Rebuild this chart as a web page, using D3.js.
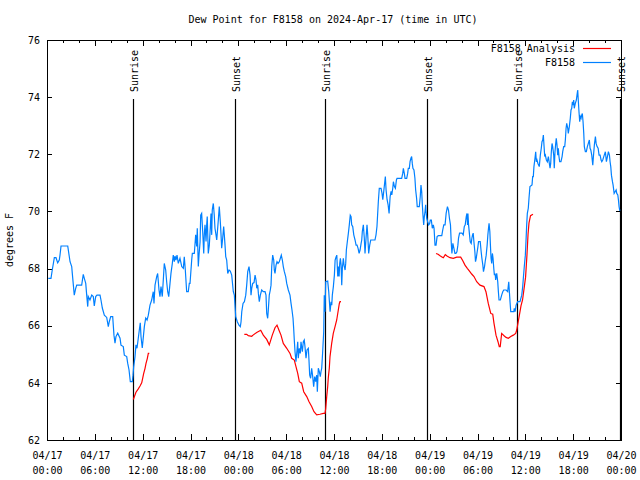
<!DOCTYPE html>
<html>
<head>
<meta charset="utf-8">
<script src="https://cdn.jsdelivr.net/npm/d3@7"></script>
<style>
  body { margin: 0; background: #fff; }
  text { font-family: "DejaVu Sans Mono", monospace; font-size: 10px; fill: #000; }
</style>
</head>
<body>
<div id="chart"></div>
<script>

// hours after 2024-04-17 00:00 UTC
var startDay = Date.UTC(2024, 3, 17);

var sunHours = [10.83, 23.62, 34.91, 47.67, 58.96, 71.88];
var sunLabels = ["Sunrise", "Sunset", "Sunrise", "Sunset", "Sunrise", "Sunset"];

var yTicks = [62, 64, 66, 68, 70, 72, 74, 76];

// F8158 observations [hour, degrees F]
var f8158Apr17 = [[0.16,67.66],[0.50,67.66],[0.66,67.95],[0.92,68.38],[1.13,68.38],[1.34,68.2],[1.54,68.3],[1.63,68.47],[1.76,68.79],[2.60,68.79],[2.89,68.24],[3.10,68.07],[3.17,67.84],[3.42,67.07],[3.60,67.31],[3.73,67.42],[4.35,67.42],[4.55,67.8],[4.68,67.66],[4.86,67.48],[4.98,67.07],[5.11,66.67],[5.18,67.02],[5.39,66.9],[5.61,67.07],[5.81,67.02],[5.93,66.69],[6.11,67.02],[6.27,67.07],[6.65,67.07],[6.77,66.9],[6.94,66.62],[7.19,66.37],[7.49,66.29],[7.69,65.97],[7.81,66.14],[7.99,66.32],[8.24,66.32],[8.40,65.67],[8.53,65.39],[8.65,65.62],[8.87,65.74],[9.16,65.56],[9.28,65.32],[9.57,65.27],[9.70,64.97],[10.00,64.92],[10.12,64.69],[10.29,64.45],[10.45,64.04],[10.70,64.04],[10.79,64.27],[10.87,64.56],[11.04,64.92],[11.16,65.33],[11.29,65.21],[11.45,65.56],[11.58,65.85],[11.70,66.1],[11.79,65.62],[11.95,65.22],[12.13,65.74],[12.21,65.97],[12.38,66.27],[12.55,66.2],[12.71,66.37],[12.92,66.72],[13.13,66.9],[13.33,67.19],[13.42,66.78],[13.55,67.42],[13.76,67.72],[13.88,67.83],[14.05,67.25],[14.17,67.02],[14.30,67.37],[14.46,67.02],[14.64,67.84],[14.71,68.18],[14.89,67.95],[15.01,67.54],[15.14,67.19],[15.27,67.02],[15.43,67.48],[15.55,67.83],[15.72,68.18],[15.84,68.47],[15.97,68.24],[16.06,68.44],[16.18,68.3],[16.31,68.47],[16.47,68.18],[16.68,68.36],[16.90,68.07],[17.10,68.01],[17.22,68.41],[17.35,67.95],[17.52,67.19],[17.72,67.19],[17.85,67.48],[17.94,67.48],[18.15,68.3],[18.23,68.53],[18.48,68.53],[18.65,69.18],[18.78,68.77],[18.85,69.41],[18.98,68.07],[19.07,68.47],[19.20,68.93],[19.28,69.87],[19.40,69.93],[19.53,69.29],[19.66,68.53],[19.73,69.18],[19.82,69.53],[19.95,68.95],[20.03,69.53],[20.10,69.82],[20.23,68.53],[20.36,68.82],[20.48,69.41],[20.57,69.93],[20.66,69.18],[20.73,70.05],[20.86,70.28],[20.98,69.87],[21.07,69.41],[21.20,69.18],[21.29,69.0],[21.36,69.24],[21.49,69.7],[21.61,70.17],[21.74,69.64],[21.82,69.24],[21.91,68.71],[22.04,69.07],[22.16,69.47],[22.24,69.18],[22.33,68.82],[22.42,68.42],[22.54,68.3],[22.67,67.83],[22.83,67.95],[22.99,67.91],[23.17,67.77],[23.37,67.19],[23.50,67.07],[23.58,66.72],[23.67,66.32],[23.87,66.14]];

var f8158Apr18 = [[24.08,66.02],[24.25,65.97],[24.34,66.14],[24.43,66.49],[24.59,66.78],[24.76,66.84],[24.93,67.07],[25.05,67.42],[25.18,67.89],[25.34,68.07],[25.47,67.78],[25.59,67.07],[25.68,67.31],[25.80,67.48],[25.97,67.51],[26.10,67.77],[26.22,67.6],[26.31,67.31],[26.43,67.43],[26.51,67.14],[26.63,66.84],[26.76,67.07],[26.93,67.25],[27.13,67.19],[27.35,67.19],[27.47,67.07],[27.56,66.43],[27.68,66.26],[27.76,66.55],[27.88,67.07],[28.01,67.25],[28.10,67.42],[28.19,68.07],[28.31,68.47],[28.44,68.3],[28.51,67.95],[28.60,67.83],[28.73,68.12],[28.85,68.24],[28.98,68.18],[29.14,68.24],[29.27,68.36],[29.39,68.47],[29.52,68.3],[29.64,68.07],[29.77,67.89],[29.94,67.72],[30.07,67.48],[30.27,67.25],[30.48,67.07],[30.61,66.78],[30.73,66.55],[30.86,66.26],[30.94,65.91],[31.02,65.5],[31.11,65.09],[31.23,64.74],[31.36,65.15],[31.45,65.44],[31.52,64.86],[31.65,65.21],[31.77,65.03],[31.86,65.44],[32.03,65.09],[32.15,65.44],[32.27,65.5],[32.36,65.27],[32.49,64.86],[32.61,65.15],[32.78,65.21],[32.86,64.8],[32.95,64.27],[33.07,64.16],[33.20,64.51],[33.33,64.22],[33.45,63.87],[33.58,64.22],[33.70,64.04],[33.83,64.27],[33.91,63.69],[34.03,64.51],[34.16,64.39],[34.28,64.22],[34.37,64.39],[34.46,64.51],[34.58,65.09],[34.71,65.79],[34.78,67.07],[34.87,66.49],[34.96,67.54],[35.21,67.56],[35.34,67.19],[35.51,66.49],[35.63,66.84],[35.72,66.72],[35.79,67.07],[35.92,67.37],[36.05,67.78],[36.14,68.3],[36.26,68.41],[36.35,68.47],[36.47,67.72],[36.55,68.07],[36.64,67.72],[36.72,68.19],[36.80,68.36],[36.89,68.12],[36.97,67.42],[37.05,68.01],[37.17,68.36],[37.26,68.12],[37.39,67.95],[37.47,68.19],[37.55,68.65],[37.67,68.94],[37.80,69.23],[37.92,69.53],[38.04,69.87],[38.14,69.82],[38.22,69.53],[38.35,69.47],[38.48,69.18],[38.64,69.0],[38.77,68.82],[38.89,68.82],[39.02,68.71],[39.15,68.53],[39.27,68.65],[39.40,68.88],[39.48,69.0],[39.55,69.29],[39.68,69.53],[39.80,69.07],[39.89,68.53],[40.02,69.07],[40.14,69.53],[40.23,69.18],[40.35,68.53],[40.48,68.82],[40.61,69.0],[41.14,69.0],[41.27,69.18],[41.39,69.47],[41.56,70.34],[41.68,70.81],[41.90,70.81],[42.02,70.64],[42.12,70.41],[42.24,70.7],[42.37,71.04],[42.44,71.22],[42.53,70.76],[42.66,70.41],[42.79,70.23],[42.91,69.93],[43.04,70.52],[43.16,70.7],[43.25,70.58],[43.37,70.81],[43.45,71.04],[43.58,70.87],[43.70,70.81],[43.83,71.1],[43.91,71.16],[44.49,71.16],[44.62,71.33],[44.70,71.51],[44.82,71.33],[44.91,71.16],[45.12,71.16],[45.24,71.33],[45.32,71.51],[45.45,71.51],[45.54,71.74],[45.65,71.86],[45.74,71.92],[45.82,71.68],[45.90,71.51],[46.03,71.45],[46.15,71.16],[46.24,70.76],[46.36,70.46],[46.44,70.17],[46.70,70.17],[46.82,70.52],[46.91,70.92],[47.00,70.7],[47.07,70.29],[47.16,69.87],[47.25,69.53],[47.33,69.82],[47.42,70.0],[47.50,70.23],[47.53,70.06],[47.63,69.76],[47.75,69.64],[47.88,69.53]];

var f8158Apr19 = [[48.00,69.58],[48.08,69.7],[48.21,69.7],[48.33,69.41],[48.46,69.53],[48.55,69.41],[48.67,68.82],[48.80,68.82],[48.93,69.12],[49.09,69.15],[49.52,69.15],[49.64,69.35],[49.77,69.53],[49.93,69.53],[50.07,69.94],[50.23,70.17],[50.36,70.05],[50.48,69.76],[50.61,69.53],[50.70,68.94],[50.79,68.53],[50.91,68.88],[51.04,68.71],[51.17,68.53],[51.29,68.53],[51.42,68.59],[51.54,68.82],[51.62,69.07],[51.75,69.24],[52.05,69.24],[52.21,69.18],[52.34,69.47],[52.46,69.53],[52.59,69.82],[52.68,69.93],[52.75,69.53],[52.80,69.93],[52.88,69.53],[53.00,69.18],[53.09,68.94],[53.21,68.88],[53.30,69.07],[53.38,69.18],[53.46,69.24],[53.55,68.94],[53.67,68.59],[53.75,68.24],[53.84,68.36],[53.96,68.59],[54.05,68.76],[54.13,68.94],[54.34,68.94],[54.46,68.59],[54.55,68.36],[54.67,68.12],[54.75,67.89],[54.88,68.07],[54.96,68.24],[55.09,68.47],[55.21,68.82],[55.30,69.18],[55.38,69.41],[55.45,69.58],[55.55,69.29],[55.62,68.82],[55.70,68.36],[55.78,68.18],[55.87,68.53],[55.95,68.36],[56.04,68.01],[56.12,67.77],[56.21,67.83],[56.28,67.6],[56.41,67.83],[56.54,67.54],[56.62,67.19],[56.70,66.9],[56.87,66.9],[57.04,67.08],[57.17,67.19],[57.29,67.25],[57.59,67.25],[57.79,67.19],[57.83,67.31],[57.92,67.54],[58.00,67.19],[58.08,66.84],[58.17,66.49],[58.56,66.49],[58.61,66.61],[58.72,66.49],[58.84,66.72],[59.04,66.84],[59.33,66.84],[59.55,67.07],[59.67,67.37],[59.75,67.66],[59.87,68.07],[60.00,68.47],[60.08,68.94],[60.17,69.53],[60.25,69.93],[60.37,70.11],[60.46,70.46],[60.58,70.87],[60.84,70.93],[60.92,71.22],[61.00,71.22],[61.08,71.57],[61.21,71.86],[61.30,72.09],[61.38,71.74],[61.46,71.8],[61.58,71.68],[61.75,71.57],[61.88,71.97],[62.00,72.21],[62.09,72.44],[62.18,72.5],[62.26,72.67],[62.35,72.27],[62.43,71.92],[62.51,71.97],[62.64,71.8],[62.76,71.74],[62.89,71.92],[63.01,71.68],[63.10,71.51],[63.18,71.68],[63.26,72.09],[63.35,72.38],[63.43,72.27],[63.56,71.97],[63.63,71.51],[63.72,72.09],[63.81,72.38],[63.88,72.56],[63.97,72.33],[64.06,71.97],[64.14,72.21],[64.22,71.92],[64.31,71.74],[64.47,71.74],[64.61,71.92],[64.69,72.09],[64.81,72.27],[64.94,72.27],[65.02,72.5],[65.11,72.91],[65.19,73.08],[65.32,72.91],[65.39,72.73],[65.52,72.97],[65.64,73.26],[65.73,73.55],[65.82,73.61],[65.90,73.84],[65.98,73.72],[66.07,73.9],[66.14,73.61],[66.27,73.78],[66.40,73.9],[66.48,74.07],[66.57,74.25],[66.64,73.9],[66.73,73.49],[66.82,73.14],[66.90,73.32],[66.99,73.26],[67.07,73.37],[67.15,73.43],[67.24,73.14],[67.33,72.73],[67.40,72.27],[67.53,72.09],[67.65,72.09],[67.78,72.27],[68.03,72.5],[68.12,72.21],[68.21,72.15],[68.33,71.97],[68.46,71.62],[68.54,71.92],[68.66,72.33],[68.79,72.62],[68.88,72.38],[69.00,72.27],[69.13,72.21],[69.25,71.97],[69.38,71.97],[69.50,71.8],[69.59,71.74],[69.71,71.8],[69.84,71.92],[69.97,72.03],[70.04,72.09],[70.17,71.74],[70.30,71.92],[70.42,72.09],[70.55,71.97],[70.63,71.74],[70.72,71.56],[70.80,71.27],[70.93,71.04],[71.01,70.92],[71.14,70.63],[71.26,70.69],[71.39,70.75],[71.47,70.63],[71.60,70.58],[71.68,70.4],[71.76,70.17],[71.85,70.02]];

// F8158 Analysis, three separate runs
var analysisRun1 = [[10.83,63.42],[11.16,63.67],[11.45,63.79],[11.67,63.89],[11.88,64.0],[12.0,64.16],[12.13,64.33],[12.29,64.5],[12.42,64.68],[12.58,64.85],[12.71,65.03],[12.83,65.03]];
var analysisRun2 = [[24.75,65.70],[25.05,65.70],[25.25,65.65],[25.68,65.63],[25.88,65.68],[26.30,65.76],[26.81,65.84],[27.13,65.67],[27.56,65.52],[27.88,65.33],[28.26,65.67],[28.60,65.93],[28.85,66.02],[29.10,65.84],[29.35,65.67],[29.64,65.38],[30.07,65.21],[30.48,65.03],[30.69,64.86],[31.02,64.8],[31.23,64.57],[31.45,64.33],[31.65,64.04],[31.95,63.99],[32.20,63.69],[32.58,63.52],[32.87,63.34],[33.20,63.17],[33.49,62.99],[33.83,62.88],[34.24,62.9],[34.66,62.93],[34.87,62.93],[34.96,63.1],[35.08,63.5],[35.21,63.87],[35.28,64.16],[35.41,64.51],[35.50,64.92],[35.71,65.38],[35.91,65.73],[36.13,65.97],[36.34,66.2],[36.54,66.55],[36.67,66.78],[36.75,66.84],[36.88,66.84]];
var analysisRun3 = [[48.80,68.53],[49.05,68.5],[49.30,68.45],[49.59,68.4],[49.71,68.38],[49.96,68.49],[50.17,68.44],[50.55,68.38],[50.96,68.36],[51.39,68.4],[51.89,68.4],[52.14,68.28],[52.43,68.12],[52.72,68.01],[52.97,67.92],[53.27,67.81],[53.56,67.72],[53.90,67.54],[54.31,67.42],[54.81,67.37],[55.06,67.19],[55.35,66.78],[55.66,66.43],[55.91,66.4],[56.07,66.08],[56.32,65.67],[56.57,65.44],[56.73,65.27],[56.85,65.27],[57.03,65.73],[57.33,65.65],[57.58,65.59],[57.87,65.56],[58.17,65.62],[58.49,65.67],[58.79,65.73],[58.92,65.85],[59.21,66.3],[59.46,66.7],[59.65,66.9],[59.84,67.3],[60.03,67.7],[60.21,68.5],[60.34,69.2],[60.46,69.6],[60.65,69.85],[60.96,69.9]];

var svgWidth = 640, svgHeight = 480;
var margin = { top: 40, right: 19, bottom: 40, left: 47 };
var width = svgWidth - margin.left - margin.right;
var height = svgHeight - margin.top - margin.bottom;

function hourToDate(h) {
  return new Date(startDay + h * 3600 * 1000);
}

var svg = d3.select("#chart")
  .append("svg")
  .attr("width", svgWidth)
  .attr("height", svgHeight);

var chartGroup = svg.append("g")
  .attr("transform", `translate(${margin.left}, ${margin.top})`);

var xScale = d3.scaleUtc()
  .domain([hourToDate(0), hourToDate(72)])
  .range([0, width]);

var yScale = d3.scaleLinear()
  .domain([62, 76])
  .range([height, 0]);

var fmtDay = d3.utcFormat("%m/%d");
var fmtTime = d3.utcFormat("%H:%M");

// bottom axis: major 6h with labels, minor 2h
var bottomMinor = chartGroup.append("g")
  .attr("transform", `translate(0, ${height})`)
  .call(d3.axisBottom(xScale).ticks(d3.utcHour.every(2)).tickSize(-3).tickSizeOuter(0).tickFormat(""));

var bottomAxis = chartGroup.append("g")
  .attr("transform", `translate(0, ${height})`)
  .call(d3.axisBottom(xScale).ticks(d3.utcHour.every(6)).tickSize(-6).tickSizeOuter(0).tickPadding(11));

bottomAxis.selectAll(".tick text").each(function(d) {
  var t = d3.select(this);
  t.text(null).attr("dy", null).attr("y", 19);
  t.append("tspan").attr("x", 0).attr("y", 19).text(fmtDay(d));
  t.append("tspan").attr("x", 0).attr("y", 34).text(fmtTime(d));
});

var topMinor = chartGroup.append("g")
  .call(d3.axisTop(xScale).ticks(d3.utcHour.every(2)).tickSize(-3).tickSizeOuter(0).tickFormat(""));
var topMajor = chartGroup.append("g")
  .call(d3.axisTop(xScale).ticks(d3.utcHour.every(6)).tickSize(-6).tickSizeOuter(0).tickFormat(""));

var leftAxis = chartGroup.append("g")
  .call(d3.axisLeft(yScale).tickValues(yTicks).tickSize(-5).tickSizeOuter(0).tickPadding(7));
leftAxis.selectAll(".tick text").attr("dy", "0.32em");

var rightAxis = chartGroup.append("g")
  .attr("transform", `translate(${width}, 0)`)
  .call(d3.axisRight(yScale).tickValues(yTicks).tickSize(-5).tickSizeOuter(0).tickFormat(""));

chartGroup.selectAll(".domain").remove();
chartGroup.selectAll(".tick line").attr("stroke", "#000").attr("shape-rendering", "crispEdges");
chartGroup.selectAll(".tick text").attr("font-family", null).attr("font-size", null).attr("fill", "#000");

// frame
chartGroup.append("rect")
  .attr("x", 0.5).attr("y", 0.5)
  .attr("width", width).attr("height", height)
  .attr("fill", "none")
  .attr("stroke", "#000")
  .attr("shape-rendering", "crispEdges");

// sunrise / sunset markers
var sunGroup = chartGroup.selectAll(".sun")
  .data(sunHours)
  .enter()
  .append("g")
  .attr("transform", d => `translate(${Math.round(xScale(hourToDate(d))) + 0.5}, 0)`);

sunGroup.append("line")
  .attr("x1", 0).attr("x2", 0)
  .attr("y1", 59).attr("y2", height)
  .attr("stroke", "#000")
  .attr("stroke-width", 1.2);

// label reads bottom-to-top, its lower end just above the line
sunGroup.append("text")
  .attr("transform", "translate(4, 52) rotate(-90)")
  .attr("text-anchor", "start")
  .text((d, i) => sunLabels[i]);

var line = d3.line()
  .x(d => xScale(hourToDate(d[0])))
  .y(d => yScale(d[1]));

[analysisRun1, analysisRun2, analysisRun3].forEach(run => {
  chartGroup.append("path")
    .datum(run)
    .attr("fill", "none")
    .attr("stroke", "#ff0000")
    .attr("stroke-width", 1.2)
    .attr("d", line);
});

chartGroup.append("path")
  .datum(f8158Apr17.concat(f8158Apr18, f8158Apr19))
  .attr("fill", "none")
  .attr("stroke", "#0080ff")
  .attr("stroke-width", 1.2)
  .attr("d", line);

// legend
var legend = svg.append("g");
var legendItems = [["F8158 Analysis", "#ff0000"], ["F8158", "#0080ff"]];
legendItems.forEach((item, i) => {
  var yy = 48 + i * 14;
  legend.append("text")
    .attr("x", 575).attr("y", yy + 3.5)
    .attr("text-anchor", "end")
    .text(item[0]);
  legend.append("line")
    .attr("x1", 583).attr("x2", 611)
    .attr("y1", yy + 0.5).attr("y2", yy + 0.5)
    .attr("stroke", item[1])
    .attr("stroke-width", 1.2);
});

// title and y label
svg.append("text")
  .attr("x", 333).attr("y", 23)
  .attr("text-anchor", "middle")
  .text("Dew Point for F8158 on 2024-Apr-17 (time in UTC)");

svg.append("text")
  .attr("transform", "translate(13, 240) rotate(-90)")
  .attr("text-anchor", "middle")
  .text("degrees F");

</script>
</body>
</html>
